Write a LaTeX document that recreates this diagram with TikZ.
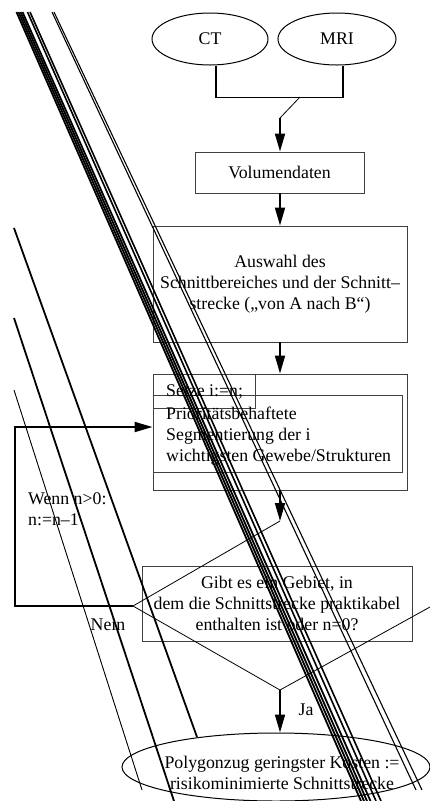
\documentclass[tikz,border=0pt]{standalone}
\usepackage{fontspec}
\setmainfont{Liberation Serif}
\usetikzlibrary{shapes.geometric,arrows.meta}
\begin{document}
\begin{tikzpicture}[x=1pt,y=-1pt,
  every node/.style={font=\fontsize{17.8}{21}\selectfont, inner sep=0pt},
  boxnode/.style={draw=black!75, line width=0.9pt, rectangle},
  oval/.style={draw=black, line width=1pt, ellipse},
  flow/.style={draw=black, line width=1.8pt, -{Triangle[length=18pt,width=10pt]}},
  conn/.style={draw=black, line width=1.8pt},
  thinline/.style={draw=black, line width=0.8pt},
  streak/.style={draw=black, line width=1.8pt},
  faint/.style={draw=black, line width=0.9pt},
]
\useasboundingbox (0,0) rectangle (430,801);

% sources
\node[oval, minimum width=116pt, minimum height=52pt] (ct) at (210,39) {CT};
\node[oval, minimum width=118pt, minimum height=52pt] (mri) at (337,39) {MRI};

% process boxes
\node[boxnode, minimum width=169pt, minimum height=41pt] (vol) at (279.5,172.5) {Volumendaten};
\node[boxnode, minimum width=254pt, minimum height=116pt, align=center] (aus) at (280,284)
  {Auswahl des\\Schnittbereiches und der Schnitt–\\strecke („von A nach B“)};
\node[boxnode, minimum width=254pt, minimum height=116pt] (outer) at (280,432) {};
\node[boxnode, minimum width=249pt, minimum height=77pt] (inner) at (277.5,433.5) {};
\node[boxnode, minimum width=102pt, minimum height=34pt] (setze) at (204,391) {};
\node[anchor=west] (setzetxt) at (166,392) {Setze i:=n;};
\node[anchor=west, align=left] (prio) at (166,436)
  {Prioritätsbehaftete\\Segmentierung der i\\wichtigsten Gewebe/Strukturen};

% decision
\node[boxnode, minimum width=270pt, minimum height=75pt, align=center] (dec) at (277,603.5)
  {Gibt es ein Gebiet, in\\dem die Schnittstrecke praktikabel\\enthalten ist oder n=0?};
\coordinate (dtop) at (280,521);
\coordinate (dleft) at (133,606);
\coordinate (dbot) at (280,690);
\coordinate (dright) at (430,607);
\draw[thinline] (dtop) -- (dleft) -- (dbot) -- (dright);

% result
\node[oval, minimum width=308pt, minimum height=68pt] (fin) at (276,767) {};
\node[align=center] (fintxt) at (282,773)
  {Polygonzug geringster Kosten :=\\risikominimierte Schnittstrecke};

% connectors
\coordinate (jn) at (300,97);
\coordinate (kink) at (280,118);
\draw[conn] ([xshift=6pt]ct.south) -- ++(0,32) -| ([xshift=6pt]mri.south);
\draw[thinline] (jn) -- (kink);
\draw[flow] (kink) -- (kink |- vol.north);
\draw[flow] (vol.south -| kink) -- (aus.north -| kink);
\draw[flow] (aus.south -| kink) -- (outer.north -| kink);
\draw[flow] (outer.south -| kink) -- (dtop);
\draw[flow] (dbot) -- (dbot |- fin.north);
\coordinate (fb1) at (15,606);
\coordinate (fb2) at (15,427);
\draw[flow] (dleft) -- (fb1) -- (fb2) -- (fb2 -| outer.west);

% labels
\node[anchor=west, align=left] (wenn) at (28,509) {Wenn n>0:\\n:=n–1};
\node (nein) at (108,625) {Nein};
\node (ja) at (306,710) {Ja};

% diagonal strokes across the sheet
\begin{scope}
\clip (0,0) rectangle (430,801);
\draw[streak] (16.5,12) -- (361,801);
\draw[streak] (18.5,12) -- (364,801);
\draw[streak] (20.5,12) -- (367,801);
\draw[streak] (22.5,12) -- (370.5,801);
\draw[streak, line width=1.6pt] (27.5,12) -- (376,801);
\draw[streak, line width=1.6pt] (30,12) -- (381,801);
\draw[faint, line width=1.1pt] (52,12) -- (416,790);
\draw[faint, line width=1.1pt] (54,12) -- (422,790);
\draw[streak] (14,228) -- (197,737);
\draw[streak] (14,318) -- (174,801);
\draw[faint] (14,390) -- (142,790);
\end{scope}
\end{tikzpicture}
\end{document}
